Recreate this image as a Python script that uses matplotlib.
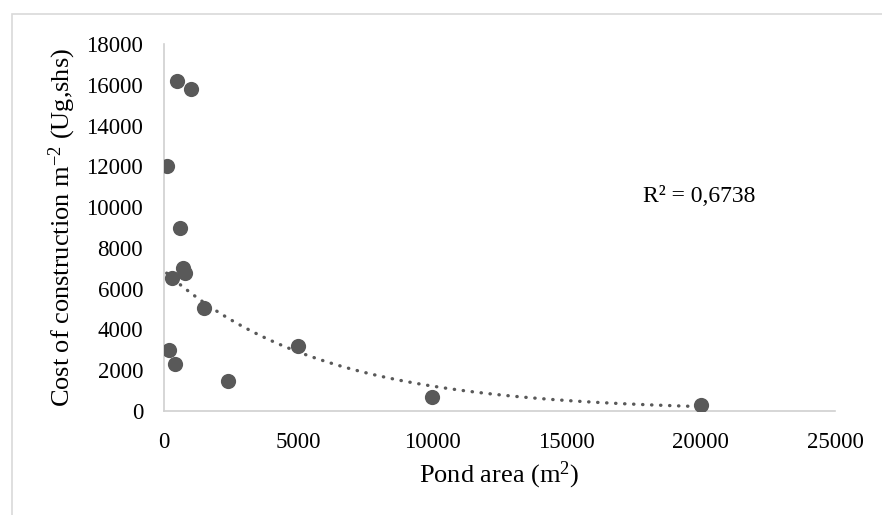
import numpy as np
import matplotlib.pyplot as plt
from matplotlib.patches import Rectangle

plt.rcParams['font.family'] = ['Liberation Serif', 'DejaVu Serif']
plt.rcParams['mathtext.fontset'] = 'custom'
plt.rcParams['mathtext.rm'] = 'Liberation Serif'
plt.rcParams['mathtext.it'] = 'Liberation Serif:italic'

# pond area (m2) and cost per m2
area = [500, 1000, 100, 600, 700, 800, 300, 1500, 5000, 200, 400, 2400, 10000, 20000]
cost = [16200, 15800, 12000, 9000, 7000, 6750, 6500, 5050, 3200, 3000, 2300, 1450, 700, 300]
r2_text = "R² = 0,6738"

x = np.array(area, dtype=float)
y = np.array(cost, dtype=float)

# exponential trendline like excel
b, lna = np.polyfit(x, np.log(y), 1)
xs = np.linspace(x.min(), x.max(), 300)
ys = np.exp(lna) * np.exp(b * xs)

fig = plt.figure(figsize=(8.82, 5.15), dpi=100)
ax = fig.add_axes([164/882, 1 - 411/515, (835-164)/882, (411-44)/515])

ax.plot(xs, ys, color='#595959', linestyle=(0, (0.1, 2.6)), linewidth=2.4,
        dash_capstyle='round', zorder=2)
ax.scatter(x, y, s=120, color='#595959', zorder=3, linewidths=0)

ax.set_xlim(0, 25000)
ax.set_ylim(0, 18000)
ax.set_xticks(np.arange(0, 25001, 5000))
ax.set_yticks(np.arange(0, 18001, 2000))
ax.tick_params(length=0, labelsize=16.5)
ax.tick_params(axis='x', pad=15)
ax.tick_params(axis='y', pad=15)

for s in ['top', 'right']:
    ax.spines[s].set_visible(False)
for s in ['left', 'bottom']:
    ax.spines[s].set_color('#d0d0d0')
    ax.spines[s].set_linewidth(1.2)

ax.set_xlabel('Pond area (m$^{2}$)', fontsize=19, labelpad=5)
ax.set_ylabel(r'Cost of construction m$^{-2}$ (Ug,shs)', fontsize=19, labelpad=6)

ax.text(17850, 10500, r2_text, fontsize=17, ha='left', va='center')

fig.patches.append(Rectangle((12/882, -0.1), 1.0, 1 - 14/515 + 0.1,
                             transform=fig.transFigure, fill=False,
                             edgecolor='#d9d9d9', linewidth=1.2))

fig.savefig('out.png', dpi=100)
